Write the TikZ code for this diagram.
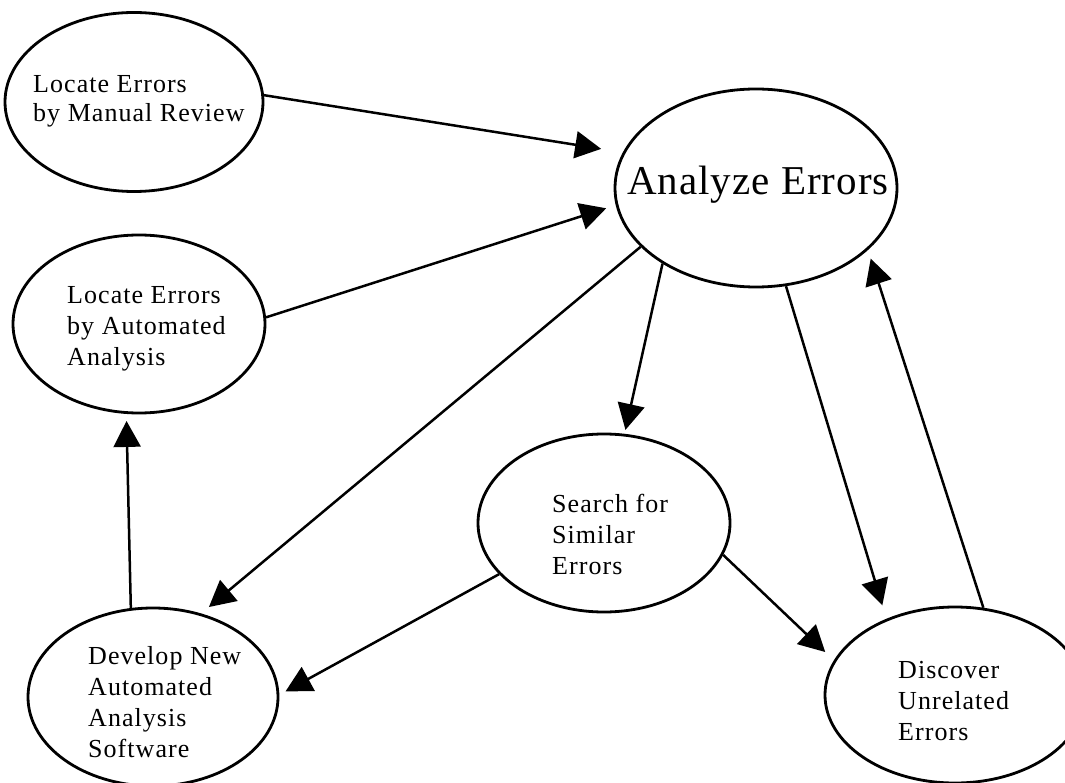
\documentclass[tikz,border=0pt]{standalone}
\usepackage{fontspec}
\setmainfont{Liberation Serif}
\newfontfamily\labfont[LetterSpace=4]{Liberation Serif}
\newfontfamily\bigfont[LetterSpace=2.5]{Liberation Serif}
\usetikzlibrary{arrows.meta,shapes.geometric}
\begin{document}
\begin{tikzpicture}[x=1pt,y=-1pt,
  oval/.style={draw, ellipse, line width=2.8pt, inner sep=0pt},
  lab/.style={anchor=base west, inner sep=0pt, font=\labfont\fontsize{26}{31}\selectfont},
  arr/.style={line width=2.5pt, -{Triangle[length=26pt,width=27pt]}}]
\useasboundingbox (0,0) rectangle (1065,783);
\clip (0,0) rectangle (1065,783);
\node[oval, minimum width=258pt, minimum height=179pt] (e1) at (134,102) {};
\node[oval, minimum width=282pt, minimum height=198pt] (e2) at (756,188) {};
\node[oval, minimum width=252pt, minimum height=178pt] (e3) at (139,324) {};
\node[oval, minimum width=252pt, minimum height=178pt] (e4) at (604,523) {};
\node[oval, minimum width=250pt, minimum height=178pt] (e5) at (153,697) {};
\node[oval, minimum width=260pt, minimum height=176pt] (e6) at (955,695) {};
\node[lab] (t1) at (33,93) {\fontsize{26}{29}\selectfont\begin{tabular}[t]{@{}l@{}}Locate Errors\\by Manual Review\end{tabular}};
\node[anchor=base west, inner sep=0pt, font=\bigfont\fontsize{41}{49}\selectfont] (t2) at (627,195) {Analyze Errors};
\node[lab] (t3) at (67,304) {\begin{tabular}[t]{@{}l@{}}Locate Errors\\by Automated\\Analysis\end{tabular}};
\node[lab] (t4) at (552,512) {\begin{tabular}[t]{@{}l@{}}Search for\\Similar\\Errors\end{tabular}};
\node[lab] (t5) at (88,664) {\begin{tabular}[t]{@{}l@{}}Develop New\\Automated\\Analysis\\Software\end{tabular}};
\node[lab] (t6) at (898,678) {\begin{tabular}[t]{@{}l@{}}Discover\\Unrelated\\Errors\end{tabular}};
\draw[arr, shorten >=22pt] (e1.3) -- (e2.165);
\draw[arr, shorten >=10pt] (e3.3) -- (e2.187);
\draw[arr, shorten >=10pt] (e2.207) -- (e5.60);
\draw[arr, shorten >=4pt] (e2.219) -- (e4.77);
\draw[arr, shorten >=14pt] (e2.287) -- (e6.132);
\draw[arr, shorten >=9pt] (e6.72) -- (e2.331);
\draw[arr, shorten >=7pt] (e4.206) -- (e5.1);
\draw[arr, shorten >=12pt] (e4.345) -- (e6.164);
\draw[arr, shorten >=7pt] (e5.104) -- (e3.262);
\end{tikzpicture}
\end{document}
